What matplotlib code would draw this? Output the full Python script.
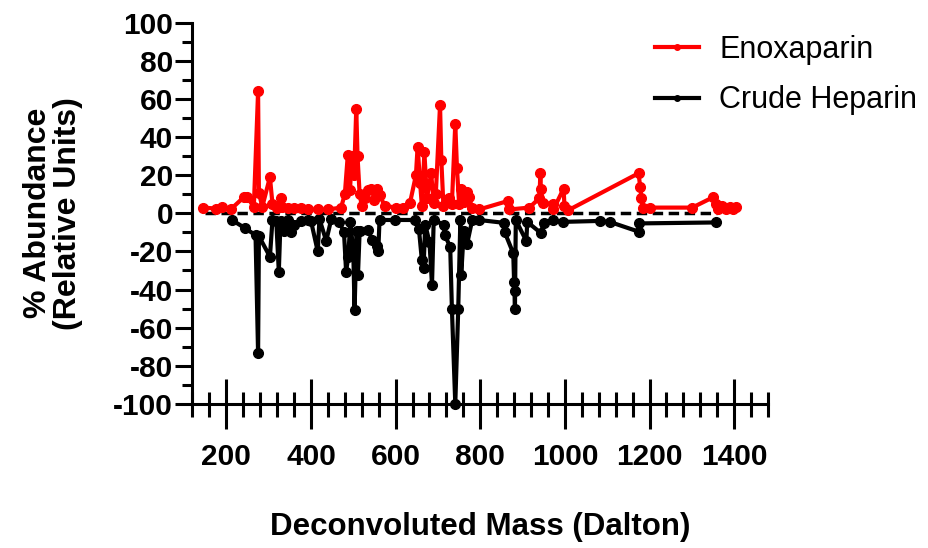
import matplotlib.pyplot as plt
from matplotlib.ticker import FixedLocator, MultipleLocator

plt.rcParams['font.family'] = ['Liberation Sans', 'DejaVu Sans']
plt.rcParams['axes.unicode_minus'] = False

# Enoxaparin: deconvoluted mass (Da) vs % abundance
enox_mass = [146, 175, 190, 210, 241, 248, 265, 275, 277, 285, 303, 309, 320, 328,
             332, 345, 360, 376, 392, 416, 440, 471, 480, 487, 492, 497, 502, 507,
             510, 515, 520, 527, 535, 543, 550, 557, 562, 574, 600, 618, 634, 648,
             652, 658, 662, 668, 674, 684, 690, 695, 705, 708, 713, 720, 725, 733,
             741, 745, 750, 755, 762, 769, 773, 781, 797, 866, 868, 916, 940, 942,
             943, 948, 971, 973, 997, 999, 1007, 1174, 1178, 1181, 1185, 1202, 1301,
             1350, 1356, 1362, 1372, 1380, 1390, 1398, 1405]
enox_abund = [3, 2.5, 3.5, 2, 8.4, 8.7, 3.5, 64, 10.5, 3.5, 19, 5, 3, 8,
              3.5, 3, 3, 3, 2, 2, 2, 3, 10, 30.6, 12, 30, 20, 55,
              30, 10, 4, 8, 12, 13, 7, 13, 9.8, 4, 3, 3, 5.5, 20,
              35, 15.7, 4, 32, 8, 21, 5.5, 10, 57, 28, 4, 6, 8, 5,
              47, 23.6, 5, 13, 6, 11, 8.4, 3, 2, 6.5, 2, 3, 8, 21,
              13, 5.5, 5, 2, 13, 4, 1.5, 21, 14, 8, 3, 3, 3,
              8.4, 5, 2, 4, 2, 3.5, 2, 3.5]

# Crude heparin: plotted as negative abundance
crude_mass = [213, 245, 269, 275, 277, 303, 309, 318, 324, 328, 336, 345, 352, 360,
              376, 392, 400, 416, 420, 436, 448, 467, 478, 483, 488, 493, 500, 503,
              508, 511, 515, 534, 545, 555, 559, 562, 598, 646, 655, 662, 666, 670,
              680, 686, 690, 714, 716, 729, 733, 741, 748, 753, 755, 761, 769, 781,
              797, 856, 858, 878, 880, 881, 882, 884, 909, 911, 943, 950, 971, 995,
              1082, 1106, 1174, 1176, 1356]
crude_abund = [-3.5, -7.9, -11.5, -73.5, -12, -22.8, -3.5, -4, -30.6, -4, -9.5, -3.5, -10, -6,
               -4, -3.5, -4, -20, -3, -14.5, -3, -4.5, -10, -30.6, -23, -4.5, -20, -50.8,
               -9.5, -32.6, -9.5, -8.5, -14, -17, -20, -3.5, -3.5, -3.5, -8, -24.5, -28.6, -6,
               -15, -37.6, -3.5, -6, -11.5, -17.5, -50, -100, -50, -3.5, -32.4, -9.5, -16, -3.5,
               -3.5, -5, -10, -21, -36, -41, -50, -3.5, -14.6, -4.5, -10.3, -5, -3.5, -4.5,
               -4, -4.5, -9.6, -5.3, -4.8]

x_major = [200, 400, 600, 800, 1000, 1200, 1400]
y_major = [-100, -80, -60, -40, -20, 0, 20, 40, 60, 80, 100]

fig, ax = plt.subplots(figsize=(9.29, 5.48), dpi=100)
fig.subplots_adjust(left=0.2072, right=0.8267, top=0.9584, bottom=0.2631)

# zero reference line
ax.plot([150, 1360], [0, 0], color='black', lw=2.5, dashes=(3, 1.6), zorder=1)

ax.plot(enox_mass, enox_abund, color='red', lw=3, marker='o', markersize=7,
        label='Enoxaparin', clip_on=False, zorder=3)
ax.plot(crude_mass, crude_abund, color='black', lw=3, marker='o', markersize=7,
        label='Crude Heparin', clip_on=False, zorder=2)

ax.set_xlim(120, 1480)
ax.set_ylim(-100, 100)

ax.spines['top'].set_visible(False)
ax.spines['right'].set_visible(False)
ax.spines['left'].set_linewidth(2.2)
ax.spines['bottom'].set_linewidth(2.2)

ax.xaxis.set_major_locator(FixedLocator(x_major))
ax.xaxis.set_minor_locator(MultipleLocator(40))
ax.yaxis.set_major_locator(FixedLocator(y_major))
ax.yaxis.set_minor_locator(MultipleLocator(10))

ax.tick_params(axis='x', which='major', direction='inout', length=36, width=2.2, pad=10,
               labelsize=21.5)
ax.tick_params(axis='x', which='minor', direction='inout', length=18, width=2.2)
ax.tick_params(axis='y', which='major', direction='out', length=12, width=2.2, pad=2,
               labelsize=21.5)
ax.tick_params(axis='y', which='minor', direction='out', length=7, width=2.2)
for lab in ax.get_xticklabels() + ax.get_yticklabels():
    lab.set_fontweight('bold')

ax.set_xlabel('Deconvoluted Mass (Dalton)', fontsize=22.5, fontweight='bold')
ax.xaxis.set_label_coords(0.5, -0.283)
ax.set_ylabel('% Abundance\n(Relative Units)', fontsize=23, fontweight='bold',
              linespacing=1.0)
ax.yaxis.set_label_coords(-0.19, 0.5)

leg = fig.legend(loc='upper left', bbox_to_anchor=(0.705, 0.937), frameon=False,
                 fontsize=22, borderpad=0, borderaxespad=0, handlelength=1.45,
                 handletextpad=0.65, labelspacing=0.68)
for h in leg.legend_handles:
    h.set_markersize(4)

fig.savefig('out.png', dpi=100)
